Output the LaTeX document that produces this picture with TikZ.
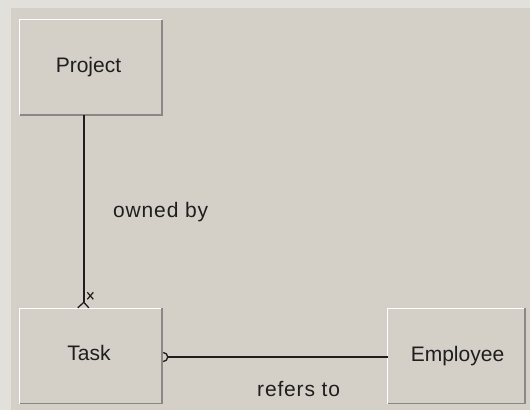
\documentclass[tikz,border=0pt]{standalone}
\usepackage{fontspec}
\setmainfont{Liberation Sans}
\newfontfamily\lblfont[LetterSpace=4]{Liberation Sans}
\usetikzlibrary{calc}
\definecolor{bg}{HTML}{D4D0C8}
\definecolor{edge}{HTML}{E2E0DB}
\definecolor{shade}{HTML}{8A8884}
\definecolor{ink}{HTML}{1E1E1E}
\tikzset{
  entity/.style={draw=none, fill=bg, minimum width=142bp, minimum height=95bp, inner sep=0pt},
  etext/.style={anchor=base, text=ink, font=\fontsize{21bp}{25bp}\selectfont, inner sep=0pt},
  ltext/.style={anchor=base west, text=ink, font=\lblfont\fontsize{21bp}{25bp}\selectfont, inner sep=0pt},
  conn/.style={draw=ink, line width=1.6bp},
  hilite/.style={draw=white, line width=1.2bp},
  lowlite/.style={draw=shade, line width=1.5bp}
}
\begin{document}
\begin{tikzpicture}[x=1bp,y=-1bp]
\useasboundingbox (0,0) rectangle (530,410);
\fill[edge] (0,0) rectangle (530,410);
\fill[bg] (11,8) rectangle (530,410);
% entities
\node[entity] (project) at (91,67.5) {};
\node[entity] (task) at (91,356) {};
\node[entity, minimum width=137bp] (employee) at (456.5,356) {};
\foreach \n in {project,task,employee}{
  \draw[hilite] (\n.south west) -- (\n.north west) -- (\n.north east);
  \draw[lowlite] (\n.south west) -- (\n.south east) -- (\n.north east);
}
\node[etext] (projectlbl) at (88.5,72) {Project};
\node[etext] (tasklbl) at (89,360) {Task};
\node[etext] (employeelbl) at (457.5,361) {Employee};
% owned by
\coordinate (ptop) at ($(project.south west)+(64,0)$);
\coordinate (tfoot) at ($(task.north west)+(64,-6)$);
\draw[conn] (ptop) -- (tfoot);
\draw[ink, line width=1.3bp] (tfoot) -- ++(-6,5.5) (tfoot) -- ++(5,5.5);
\draw[ink, line width=1.2bp] ($(tfoot)+(3.5,-10)$) -- ++(6,7) ($(tfoot)+(3.5,-3)$) -- ++(6,-7);
\node[ltext] (owned) at (113,217) {owned by};
% refers to
\coordinate (tright) at ($(task.east)+(1,1)$);
\coordinate (eleft) at ($(employee.west)+(0,1)$);
\draw[conn] ($(tright)+(4,0)$) -- (eleft);
\draw[ink, line width=1.3bp] ($(tright)+(0,4.5)$) arc[start angle=90, end angle=-90, radius=4.5];
\node[ltext] (refers) at (257,396) {refers to};
\end{tikzpicture}
\end{document}
